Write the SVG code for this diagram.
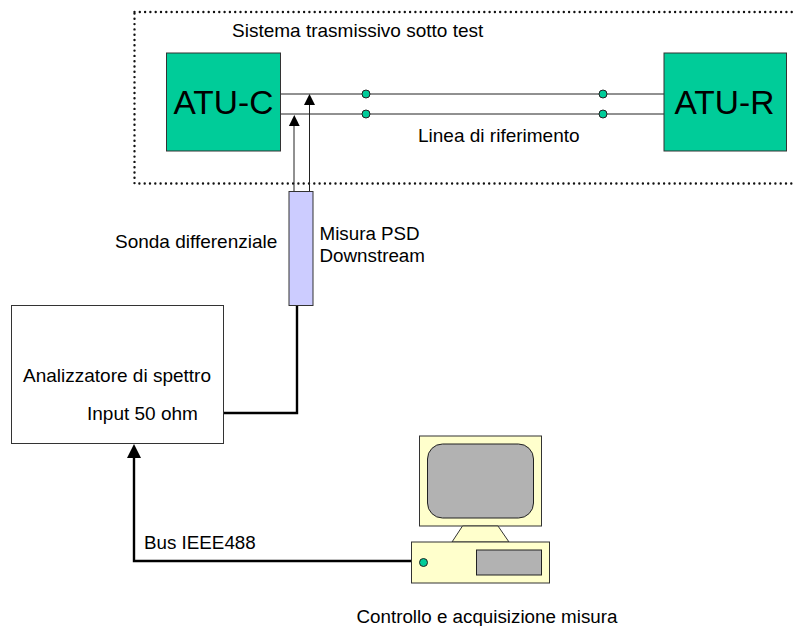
<svg xmlns="http://www.w3.org/2000/svg" width="794" height="626" viewBox="0 0 794 626">
<style>
text{font-family:"Liberation Sans",Arial,sans-serif;font-size:19px;fill:#000}
.s{font-size:18.800px}
.big{font-size:33.500px}
.t{fill:#00cc99;stroke:#333;stroke-width:1}
.y{fill:#ffffcc;stroke:#333;stroke-width:1}
.g{fill:#b2b2b2;stroke:#222;stroke-width:1}
.l{fill:none;stroke:#222;stroke-width:1}
.h{fill:none;stroke:#000;stroke-width:2.400}
.d{fill:#00cc99;stroke:#222;stroke-width:1}
</style>
<rect x="134.500" y="12" width="664" height="171.500" fill="none" stroke="#111" stroke-width="2.400" stroke-linecap="round" stroke-dasharray="0 5.300"/>
<g id="connectors">
<path class="l" d="M281 94H664M281 114H664"/>
<path class="l" d="M294 191V125"/>
<path d="M294.300 115L299.700 126H288.900Z"/>
<path class="l" d="M309.500 191V104"/>
<path d="M309.500 94L315 105H304Z"/>
<path class="h" d="M224 413H297V306"/>
<path class="h" d="M412 561H134V456"/>
<path d="M134 444L141 458H127Z"/>
</g>
<g id="atu-c"><rect class="t" x="166.500" y="53" width="114" height="98"/><text class="big" x="173.500" y="114">ATU-C</text></g>
<g id="atu-r"><rect class="t" x="664" y="53" width="122.500" height="98"/><text class="big" x="674.500" y="114">ATU-R</text></g>
<g id="j1"><circle class="d" cx="366" cy="94" r="4"/></g>
<g id="j2"><circle class="d" cx="366" cy="114" r="4"/></g>
<g id="j3"><circle class="d" cx="603" cy="94" r="4"/></g>
<g id="j4"><circle class="d" cx="603" cy="114" r="4"/></g>
<g id="sonda"><rect x="289" y="191.500" width="24" height="114" fill="#ccccff" stroke="#333"/></g>
<g id="analizzatore"><rect x="11.500" y="305.500" width="212" height="138" fill="#fff" stroke="#333"/>
<text x="23" y="382">Analizzatore di spettro</text><text x="87" y="420">Input 50 ohm</text></g>
<g id="computer">
<rect class="y" x="419.500" y="436" width="122" height="90"/>
<rect class="g" x="427.500" y="444" width="106" height="74" rx="15"/>
<path class="y" d="M452 542L462.500 526H498L509 542Z"/>
<rect class="y" x="411.500" y="542" width="138" height="41"/>
<circle class="d" cx="423.500" cy="562.500" r="4"/>
<rect class="g" x="476.500" y="550" width="65" height="25"/>
</g>
<text x="232" y="37">Sistema trasmissivo sotto test</text>
<text x="418" y="141.500">Linea di riferimento</text>
<text x="115" y="247.500">Sonda differenziale</text>
<text class="s" x="319.500" y="240">Misura PSD</text>
<text class="s" x="319.500" y="262">Downstream</text>
<text class="s" x="144" y="548.500">Bus IEEE488</text>
<text class="s" x="356.500" y="622.500">Controllo e acquisizione misura</text>
</svg>
